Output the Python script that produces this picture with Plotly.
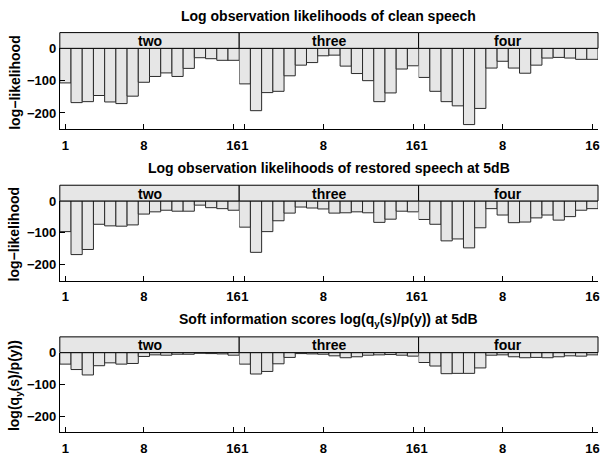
import plotly.graph_objects as go

W, H = 604, 457

frames = list(range(1, 17))
words = ["two", "three", "four"]

row_titles = [
    "Log observation likelihoods of clean speech",
    "Log observation likelihoods of restored speech at 5dB",
    "Soft information scores log(q<sub>y</sub>(s)/p(y)) at 5dB",
]
y_titles = ["log\u2212likelihood", "log\u2212likelihood", "log(q<sub>y</sub>(s)/p(y))"]

# Row 1: clean speech
clean_two = [-107, -168, -165, -146, -166, -171, -148, -105, -87, -76, -87, -62, -29, -32, -37, -37]
clean_three = [-110, -193, -137, -133, -85, -52, -44, -23, -21, -55, -78, -100, -165, -138, -64, -54]
clean_four = [-90, -133, -165, -178, -236, -186, -61, -40, -61, -77, -52, -30, -28, -30, -34, -34]

# Row 2: restored speech at 5dB
rest_two = [-96, -168, -152, -73, -78, -79, -75, -41, -34, -29, -32, -32, -13, -21, -24, -29]
rest_three = [-82, -161, -96, -62, -38, -19, -22, -25, -38, -37, -34, -37, -67, -57, -32, -34]
rest_four = [-58, -73, -125, -119, -147, -84, -24, -44, -68, -66, -53, -44, -60, -49, -29, -24]

# Row 3: soft information scores
soft_two = [-36, -53, -70, -41, -32, -36, -34, -12, -7, -8, -5, -5, -2, -3, -4, -8]
soft_three = [-36, -67, -59, -35, -15, -3, -4, -5, -10, -16, -13, -8, -7, -6, -8, -11]
soft_four = [-31, -42, -66, -65, -65, -48, -8, -7, -13, -16, -15, -16, -13, -10, -11, -7]

rows = [
    [clean_two, clean_three, clean_four],
    [rest_two, rest_three, rest_four],
    [soft_two, soft_three, soft_four],
]

y_ticks = [0, -100, -200]
x_ticks = [1, 8, 16]

# layout geometry in page pixels
panel_x = [(60, 240), (240, 420), (420, 600)]
strip_top = [26, 181, 335]
zero_y = [42, 197, 351]
bottom_y = [124, 278, 432]
title_y = [9, 164, 318]
ytitle_y = [76, 230, 384]

FONT = "Liberation Sans, Arial, sans-serif"


def px(x):
    return min(max(x / W, 0.0), 1.0)


def py(y):
    return min(max(1 - y / H, 0.0), 1.0)


fig = go.Figure()
layout = dict(
    width=W, height=H,
    margin=dict(l=0, r=0, t=0, b=0),
    paper_bgcolor="white", plot_bgcolor="white",
    showlegend=False,
    font=dict(family=FONT, size=13, color="black"),
    bargap=0,
)
shapes = []
annotations = []

k = 0
for r in range(3):
    for c in range(3):
        k += 1
        xa = "xaxis" if k == 1 else f"xaxis{k}"
        ya = "yaxis" if k == 1 else f"yaxis{k}"
        xr = "x" if k == 1 else f"x{k}"
        yr = "y" if k == 1 else f"y{k}"
        x0, x1 = panel_x[c]
        layout[xa] = dict(
            domain=[px(x0), px(x1)], anchor=yr, range=[0.5, 16.5],
            tickvals=x_ticks, ticktext=[str(t) for t in x_ticks],
            ticks="inside", ticklen=5, tickcolor="black", tickwidth=1,
            showline=True, linecolor="black", linewidth=1, mirror=False,
            showgrid=False, zeroline=False, ticklabelstandoff=4,
            tickfont=dict(family=FONT, size=13, weight="bold"),
            fixedrange=True,
        )
        layout[ya] = dict(
            domain=[py(bottom_y[r]), py(zero_y[r])], anchor=xr, range=[-250, 0],
            tickvals=y_ticks, ticktext=["0", "\u2212100", "\u2212200"],
            ticks="inside" if c == 0 else "", ticklen=5, tickcolor="black",
            showline=(c == 0), linecolor="black", linewidth=1,
            showticklabels=(c == 0), showgrid=False, zeroline=False,
            tickfont=dict(family=FONT, size=13, weight="bold"),
            fixedrange=True,
        )
        fig.add_trace(go.Bar(
            x=frames, y=rows[r][c], width=1,
            marker=dict(color="#e6e6e6", line=dict(color="#2a2a2a", width=1)),
            xaxis=xr, yaxis=yr, hoverinfo="skip",
        ))
        # strip
        shapes.append(dict(
            type="rect", xref="paper", yref="paper",
            x0=px(x0), x1=px(x1), y0=py(zero_y[r]), y1=py(strip_top[r]),
            fillcolor="#e6e6e6", line=dict(color="black", width=1), layer="above",
        ))
        annotations.append(dict(
            xref="paper", yref="paper", x=px((x0 + x1) / 2),
            y=py((strip_top[r] + zero_y[r]) / 2 + 0.5), text=f"<b>{words[c]}</b>",
            showarrow=False, xanchor="center", yanchor="middle",
            font=dict(family=FONT, size=14, color="black"),
        ))
    annotations.append(dict(
        xref="paper", yref="paper", x=px(330), y=py(title_y[r]),
        text=f"<b>{row_titles[r]}</b>", showarrow=False,
        xanchor="center", yanchor="middle",
        font=dict(family=FONT, size=14, color="black"),
    ))
    annotations.append(dict(
        xref="paper", yref="paper", x=px(15), y=py(ytitle_y[r]),
        text=f"<b>{y_titles[r]}</b>", showarrow=False, textangle=-90,
        xanchor="center", yanchor="middle",
        font=dict(family=FONT, size=14, color="black"),
    ))

layout["shapes"] = shapes
layout["annotations"] = annotations
fig.update_layout(**layout)
fig.write_html(
    "out.html",
    config={"displayModeBar": False, "staticPlot": True},
    post_script="document.body.style.margin='0';document.body.style.overflow='hidden';",
)
